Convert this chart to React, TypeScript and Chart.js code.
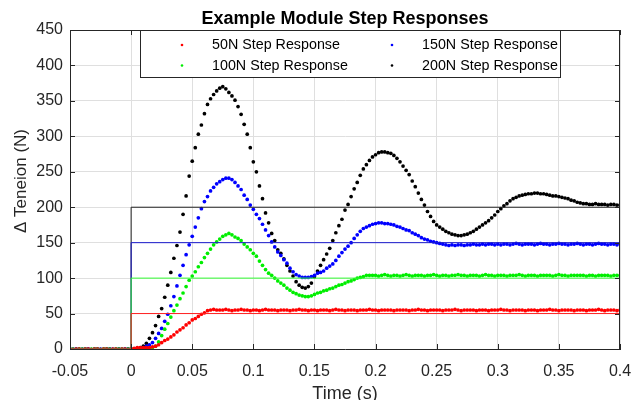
import React, { useEffect, useRef } from "react";
import { Chart, registerables } from "chart.js";

Chart.register(...registerables);

const FONT = '"Liberation Sans", Arial, Helvetica, sans-serif';

const chartTitle = "Example Module Step Responses";
const xAxisTitle = "Time (s)";
const yAxisTitle = "\u0394 Teneion (N)";

const T_START = -0.05;
const T_STEP = 0.0025;

const xTickValues = [-0.05, 0, 0.05, 0.1, 0.15, 0.2, 0.25, 0.3, 0.35, 0.4];
const xTickLabels = ["-0.05", "0", "0.05", "0.1", "0.15", "0.2", "0.25", "0.3", "0.35", "0.4"];
const yTickValues = [0, 50, 100, 150, 200, 250, 300, 350, 400, 450];

const seriesNames = ["50N Step Response", "100N Step Response", "150N Step Response", "200N Step Response"];
const seriesColors = ["#ff0000", "#00ee00", "#0000ff", "#000000"];
const stepLevels = [50, 100, 150, 200];
const stepColors = ["#ff2020", "#33ff33", "#1a1acc", "#202020"];

// values sampled every 2.5 ms from -0.05 s to 0.4 s
const resp50 = [
  0, -1, 0, 0, -1, 0, 0, -1, 0, 0, -1, 0, 0, -1, 0, 0, -1, 0, 0, -1,
  0, 1, 2, 2, 2, 2, 2, 3, 4, 6,
  9, 12, 14, 17, 20, 24, 27, 30, 34, 37,
  41, 43, 46, 49, 51, 54, 55, 56, 55, 55,
  55, 56, 55, 54, 55, 55, 56, 55, 55, 54,
  55, 55, 54, 55, 56, 55, 55, 55, 54, 55,
  55, 55, 54, 55, 55, 56, 55, 55, 54, 55,
  55, 54, 55, 55, 55, 54, 55, 56, 55, 55,
  54, 55, 55, 55, 54, 55, 55, 55, 56, 55,
  55, 54, 55, 55, 55, 55, 54, 55, 55, 55,
  55, 54, 55, 55, 56, 55, 55, 54, 55, 55,
  55, 55, 54, 55, 55, 55, 56, 55, 54, 55,
  55, 55, 55, 54, 55, 55, 55, 54, 55, 55,
  55, 56, 55, 55, 54, 55, 55, 55, 55, 54,
  55, 55, 55, 54, 55, 55, 55, 56, 55, 55,
  54, 55, 55, 55, 55, 54, 55, 55, 55, 54,
  55, 55, 55, 56, 55, 54, 55, 55, 55, 54,
  55,
];

const resp100 = [
  0, 0, -1, 0, 0, 0, -1, 0, 0, 0, -1, 0, 0, 0, -1, 0, 0, 0, -1, 0,
  0, 0, 0, 0, 0, 0, 1, 2, 4, 10,
  19, 28, 36, 45, 54, 62, 71, 79, 88, 97,
  103, 109, 116, 122, 129, 135, 141, 147, 151, 155,
  159, 161, 163, 161, 158, 156, 153, 148, 144, 140,
  135, 131, 124, 118, 112, 107, 104, 100, 96, 93,
  90, 86, 83, 80, 78, 76, 75, 74, 74, 75,
  77, 79, 80, 82, 83, 85, 86, 88, 90, 91,
  93, 95, 96, 98, 100, 101, 102, 104, 104, 104,
  104, 103, 104, 105, 104, 103, 104, 104, 103, 104,
  105, 104, 103, 104, 104, 104, 103, 104, 104, 105,
  104, 103, 104, 104, 103, 104, 104, 105, 104, 104,
  103, 104, 104, 104, 103, 104, 105, 104, 104, 103,
  104, 104, 104, 103, 104, 104, 104, 105, 104, 103,
  104, 104, 104, 103, 104, 104, 104, 104, 103, 104,
  105, 104, 104, 103, 104, 104, 104, 104, 104, 103,
  104, 104, 103, 104, 104, 104, 104, 103, 104, 104,
  104,
];

const resp150 = [
  0, 0, 0, -1, 0, 0, 0, -1, 0, 0, 0, -1, 0, 0, 0, -1, 0, 0, 0, 0,
  0, 0, 0, 1, 2, 4, 6, 9, 15, 22,
  29, 39, 49, 61, 74, 89, 104, 118, 133, 147,
  159, 172, 185, 198, 208, 215, 223, 228, 233, 236,
  239, 241, 241, 239, 235, 230, 225, 217, 211, 203,
  197, 190, 184, 176, 168, 160, 151, 144, 137, 132,
  126, 121, 114, 109, 105, 103, 101, 101, 101, 102,
  104, 107, 108, 110, 114, 117, 120, 125, 131, 136,
  141, 145, 150, 156, 161, 166, 170, 172, 174, 176,
  177, 178, 178, 177, 177, 176, 175, 173, 172, 170,
  168, 167, 164, 162, 160, 157, 155, 154, 152, 151,
  150, 149, 148, 147, 146, 147, 146, 147, 147, 146,
  147, 147, 148, 147, 147, 148, 147, 148, 148, 147,
  148, 147, 148, 148, 147, 148, 149, 148, 147, 148,
  148, 148, 147, 148, 149, 148, 148, 147, 148, 148,
  149, 148, 148, 147, 148, 148, 149, 148, 147, 148,
  148, 147, 148, 149, 148, 148, 147, 148, 148, 147,
  148,
];

const resp200 = [
  0, -1, 0, 0, -1, 0, 0, -1, 0, 0, -1, 0, 0, 0, -1, 0, 0, -1, 0, 0,
  0, 0, 1, 2, 4, 8, 15, 23, 33, 46,
  57, 73, 90, 108, 128, 146, 165, 190, 216, 244,
  265, 284, 303, 316, 332, 345, 353, 359, 364, 368,
  370, 367, 362, 357, 351, 342, 331, 317, 303, 284,
  264, 250, 230, 212, 192, 178, 163, 153, 140, 135,
  127, 118, 110, 103, 95, 90, 87, 86, 88, 93,
  102, 110, 118, 126, 134, 142, 153, 164, 174, 183,
  196, 204, 215, 226, 235, 245, 254, 260, 266, 271,
  274, 277, 278, 278, 277, 276, 273, 269, 264, 258,
  252, 246, 237, 229, 220, 211, 203, 194, 187, 180,
  175, 172, 169, 166, 164, 162, 161, 160, 160, 161,
  162, 164, 166, 169, 172, 175, 178, 181, 185, 189,
  194, 198, 202, 205, 209, 212, 214, 216, 217, 218,
  219, 219, 220, 220, 219, 219, 218, 217, 216, 216,
  215, 214, 213, 212, 210, 209, 207, 206, 205, 205,
  204, 204, 205, 204, 204, 204, 203, 204, 204, 203,
  203,
];

const seriesValues = [resp50, resp100, resp150, resp200];

const X_MIN = xTickValues[0];
const X_MAX = xTickValues[xTickValues.length - 1];

const decorations = {
  id: "decorations",
  afterDraw(chart: any) {
    const { ctx, chartArea: a } = chart;
    const xs = chart.scales.x;
    const ys = chart.scales.y;
    ctx.save();

    // box (top and right)
    ctx.strokeStyle = "#262626";
    ctx.lineWidth = 1;
    ctx.beginPath();
    ctx.moveTo(a.left, a.top + 0.5);
    ctx.lineTo(a.right, a.top + 0.5);
    ctx.moveTo(a.right - 0.5, a.top);
    ctx.lineTo(a.right - 0.5, a.bottom);
    ctx.stroke();

    // inward ticks
    ctx.beginPath();
    xTickValues.forEach((v) => {
      const px = Math.round(xs.getPixelForValue(v)) + 0.5;
      ctx.moveTo(px, a.bottom);
      ctx.lineTo(px, a.bottom - 5);
      ctx.moveTo(px, a.top);
      ctx.lineTo(px, a.top + 5);
    });
    yTickValues.forEach((v) => {
      const py = Math.round(ys.getPixelForValue(v)) + 0.5;
      ctx.moveTo(a.left, py);
      ctx.lineTo(a.left + 5, py);
      ctx.moveTo(a.right, py);
      ctx.lineTo(a.right - 5, py);
    });
    ctx.stroke();

    // title
    ctx.fillStyle = "#000000";
    ctx.font = `bold 18px ${FONT}`;
    ctx.textAlign = "center";
    ctx.textBaseline = "alphabetic";
    ctx.fillText(chartTitle, (a.left + a.right) / 2, 24);

    // x axis title
    ctx.fillStyle = "#262626";
    ctx.font = `18px ${FONT}`;
    ctx.fillText(xAxisTitle, (a.left + a.right) / 2, 399);

    // y axis title
    ctx.save();
    ctx.translate(21, 181);
    ctx.rotate(-Math.PI / 2);
    ctx.textBaseline = "middle";
    ctx.font = `17px ${FONT}`;
    ctx.fillText(yAxisTitle, 0, 0);
    ctx.restore();

    // legend
    const bx = 140.5, by = 30.5, bw = 420, bh = 47;
    ctx.fillStyle = "#ffffff";
    ctx.fillRect(bx, by, bw, bh);
    ctx.strokeStyle = "#262626";
    ctx.lineWidth = 1;
    ctx.strokeRect(bx, by, bw, bh);
    const order = [0, 2, 1, 3];
    const colMarker = [182, 392];
    const colText = [212, 422];
    const rowY = [45, 65.5];
    ctx.font = `14.3px ${FONT}`;
    ctx.textAlign = "left";
    ctx.textBaseline = "middle";
    order.forEach((si, k) => {
      const col = k % 2;
      const row = Math.floor(k / 2);
      ctx.fillStyle = seriesColors[si];
      ctx.beginPath();
      ctx.arc(colMarker[col], rowY[row], 1.3, 0, Math.PI * 2);
      ctx.fill();
      ctx.fillStyle = "#000000";
      ctx.fillText(seriesNames[si], colText[col], rowY[row] + 0.5);
    });

    ctx.restore();
  },
};

export default function App() {
  const canvasRef = useRef<HTMLCanvasElement | null>(null);

  useEffect(() => {
    if (!canvasRef.current) return;

    const stepDatasets = stepLevels.map((level, i) => ({
      label: "step" + level,
      data: [
        { x: X_MIN, y: 0 },
        { x: 0, y: 0 },
        { x: 0, y: level },
        { x: X_MAX, y: level },
      ],
      showLine: true,
      borderColor: stepColors[i],
      borderWidth: 1,
      pointRadius: 0,
      tension: 0,
    }));

    const pointDatasets = seriesValues.map((vals, i) => ({
      label: seriesNames[i],
      data: vals.map((v, k) => ({ x: T_START + k * T_STEP, y: v })),
      showLine: false,
      pointRadius: 1.85,
      pointBorderWidth: 0,
      pointBackgroundColor: seriesColors[i],
      borderColor: seriesColors[i],
    }));

    const chart = new Chart(canvasRef.current, {
      type: "scatter",
      data: { datasets: [...stepDatasets, ...pointDatasets] as any },
      options: {
        animation: false,
        responsive: false,
        devicePixelRatio: 1,
        events: [],
        layout: { padding: { left: 0, right: 14, top: 30, bottom: 0 } },
        plugins: {
          legend: { display: false },
          tooltip: { enabled: false },
          title: { display: false },
        },
        scales: {
          x: {
            type: "linear",
            min: X_MIN,
            max: X_MAX,
            afterBuildTicks: (scale: any) => {
              scale.ticks = xTickValues.map((v) => ({ value: v }));
            },
            afterFit: (scale: any) => {
              scale.height = 51;
              scale.paddingLeft = 0;
              scale.paddingRight = 0;
            },
            ticks: {
              autoSkip: false,
              maxRotation: 0,
              padding: 13,
              color: "#262626",
              font: { family: FONT, size: 16 },
              callback: (_v: any, idx: number) => xTickLabels[idx],
            },
            grid: { color: "#dfdfdf", drawTicks: false },
            border: { color: "#262626", width: 1 },
          },
          y: {
            type: "linear",
            min: yTickValues[0],
            max: yTickValues[yTickValues.length - 1],
            afterBuildTicks: (scale: any) => {
              scale.ticks = yTickValues.map((v) => ({ value: v }));
            },
            afterFit: (scale: any) => {
              scale.width = 70;
              scale.paddingTop = 0;
              scale.paddingBottom = 0;
            },
            ticks: {
              autoSkip: false,
              padding: 7,
              color: "#262626",
              font: { family: FONT, size: 16 },
              callback: (v: any) => String(v),
            },
            grid: { color: "#dfdfdf", drawTicks: false },
            border: { color: "#262626", width: 1 },
          },
        },
      },
      plugins: [decorations],
    });

    return () => chart.destroy();
  }, []);

  return (
    <div style={{ position: "absolute", left: 0, top: 0, width: 634, height: 400, background: "#ffffff" }}>
      <canvas ref={canvasRef} width={634} height={400} style={{ display: "block" }} />
    </div>
  );
}
